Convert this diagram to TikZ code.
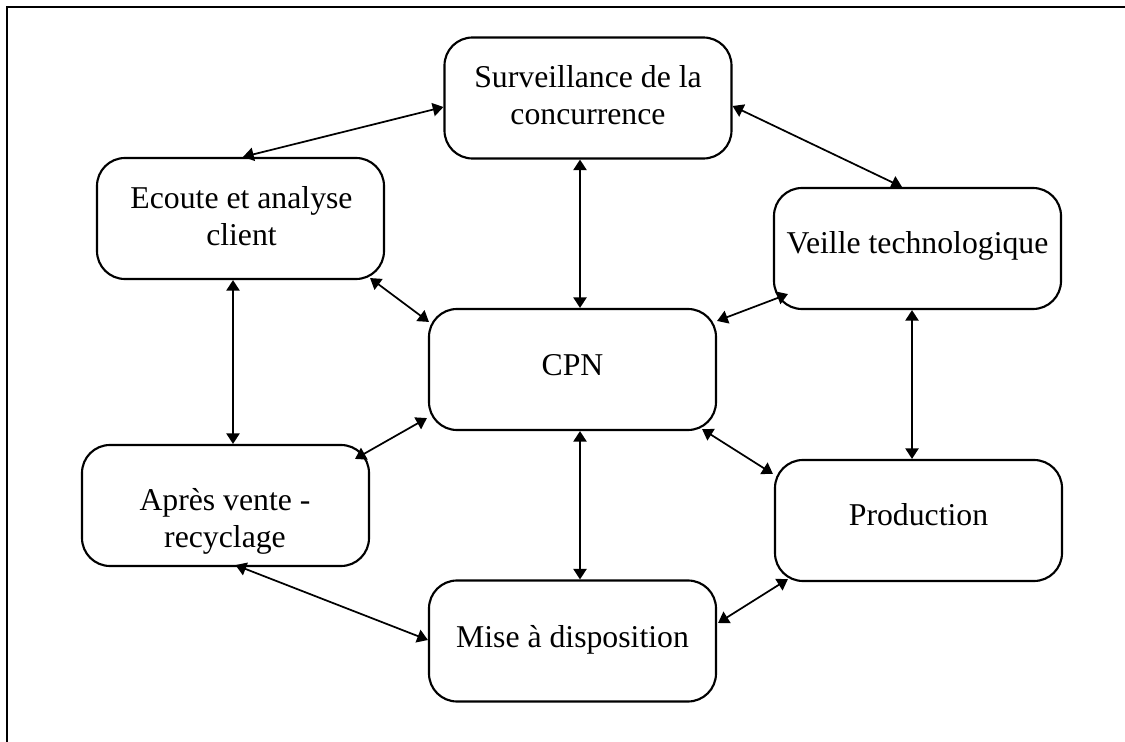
\documentclass[tikz,border=0pt]{standalone}
\usepackage{fontspec}
\setmainfont{Liberation Serif}
\usetikzlibrary{arrows.meta,calc}
\tikzset{
  box/.style={draw=black, line width=1.6pt, rounded corners=21pt, minimum width=215.25pt, minimum height=90.75pt, inner sep=0pt},
  lbl/.style={anchor=base, align=center, inner sep=0pt, font=\fontsize{23.8}{27.75}\selectfont},
  link/.style={{Triangle[length=8pt,width=10pt]}-{Triangle[length=8pt,width=10pt]}, line width=1.3pt},
  frame/.style={line width=1.5pt}
}
\begin{document}
\begin{tikzpicture}[x=0.75pt,y=-0.75pt]
\useasboundingbox (0,0) rectangle (1125,742);
\draw[frame] (7,742) -- (7,7) -- (1125,7);

\node[box] (surv)   at (588,98)      {};
\node[box] (ecoute) at (240.5,218.5) {};
\node[box] (veille) at (917.5,248.5) {};
\node[box] (cpn)    at (572.5,369.5) {};
\node[box] (apres)  at (225.5,505.5) {};
\node[box] (prod)   at (918.5,520.5) {};
\node[box] (mise)   at (572.5,641)   {};

% multi-line labels: base anchor is the baseline of the last line
\node[lbl] (survt)   at (588,124)   {Surveillance de la\\concurrence};
\node[lbl] (ecoutet) at (241.5,245) {Ecoute et analyse\\client};
\node[lbl] (veillet) at (917.5,253) {Veille technologique};
\node[lbl] (cpnt)    at (572.5,375) {CPN};
\node[lbl] (aprest)  at (225,547)   {Après vente -\\recyclage};
\node[lbl] (prodt)   at (918.5,525) {Production};
\node[lbl] (miset)   at (572.5,647) {Mise à disposition};

\draw[link] ($(surv.west)+(0,9)$) -- ($(ecoute.north)+(2.5,0)$);
\draw[link] ($(surv.east)+(0,8)$) -- ($(veille.north)+(-15.5,0)$);
\draw[link] ($(surv.south)+(-8,0)$) -- ($(cpn.north)+(7.5,0)$);
\draw[link] ($(ecoute.south east)+(-15,-2)$) -- ($(cpn.north west)+(1,14)$);
\draw[link] ($(veille.south west)+(15,-16)$) -- ($(cpn.north east)+(0,13)$);
\draw[link] ($(veille.south)+(-5.5,0)$) -- ($(prod.north)+(-6.5,0)$);
\draw[link] ($(cpn.south east)+(-15,-2)$) -- ($(prod.north west)+(-1,15)$);
\draw[link] ($(cpn.south west)+(-1,-13)$) -- ($(apres.north east)+(-15,15)$);
\draw[link] ($(cpn.south)+(7.5,0)$) -- ($(mise.north)+(7.5,0)$);
\draw[link] ($(ecoute.south)+(-7.5,0)$) -- ($(apres.north)+(7.5,0)$);
\draw[link] ($(apres.south)+(10,-2)$) -- ($(mise.west)+(0,-1)$);
\draw[link] ($(mise.east)+(1,-18)$) -- ($(prod.south west)+(14,-3)$);
\end{tikzpicture}
\end{document}
